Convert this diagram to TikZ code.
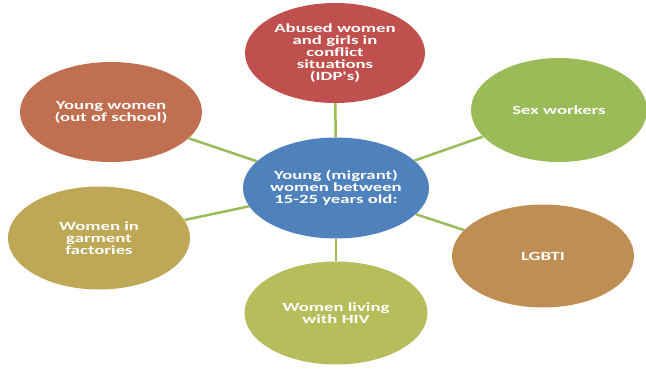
\documentclass[tikz,border=0pt]{standalone}
\usepackage{fontspec}
\usetikzlibrary{shapes.geometric}
\newfontfamily\bubblefont[FakeStretch=1.5]{Carlito}
\definecolor{hubblue}{RGB}{79,129,189}
\definecolor{idpred}{RGB}{192,80,77}
\definecolor{sexgreen}{RGB}{155,187,89}
\definecolor{lgbtibrown}{RGB}{191,142,82}
\definecolor{hivolive}{RGB}{181,190,90}
\definecolor{garmentgold}{RGB}{190,168,85}
\definecolor{schoolrust}{RGB}{192,112,80}
\definecolor{spokegreen}{RGB}{155,187,89}

\begin{document}
\begin{tikzpicture}[x=1pt,y=-1pt,
  bubble/.style={ellipse,inner sep=0pt,minimum width=182pt,minimum height=101pt,
    text=white,align=center,font=\bubblefont\bfseries\fontsize{12.5}{11.8}\selectfont},
  spoke/.style={draw=spokegreen,line width=2.5pt}]

\useasboundingbox (0,0) rectangle (646,370);

% hub
\node[bubble,fill=hubblue] (hub) at (336,188) {Young (migrant)\\women between\\15-25 years old:};

% outer bubbles
\node[bubble,fill=idpred,minimum width=180pt,minimum height=100pt] (idp) at (335,53) {Abused women\\and girls in\\conflict\\situations\\(IDP's)};
\node[bubble,fill=sexgreen,minimum width=176pt,minimum height=104pt] (sex) at (559,110) {Sex workers};
\node[bubble,fill=lgbtibrown,minimum height=103pt] (lgbti) at (543,256) {LGBTI};
\node[bubble,fill=hivolive,minimum width=183pt,minimum height=103pt] (hiv) at (336,313) {Women living\\with HIV};
\node[bubble,fill=garmentgold,minimum height=103pt] (garment) at (99,238) {Women in\\garment\\factories};
\node[bubble,fill=schoolrust,minimum height=100pt] (school) at (111,112) {Young women\\(out of school)};

% spokes
\draw[spoke] (hub) -- (idp);
\draw[spoke] (hub) -- (sex);
\draw[spoke] (hub) -- (lgbti);
\draw[spoke] (hub) -- (hiv);
\draw[spoke] (hub) -- (garment);
\draw[spoke] (hub) -- (school);

\end{tikzpicture}
\end{document}
